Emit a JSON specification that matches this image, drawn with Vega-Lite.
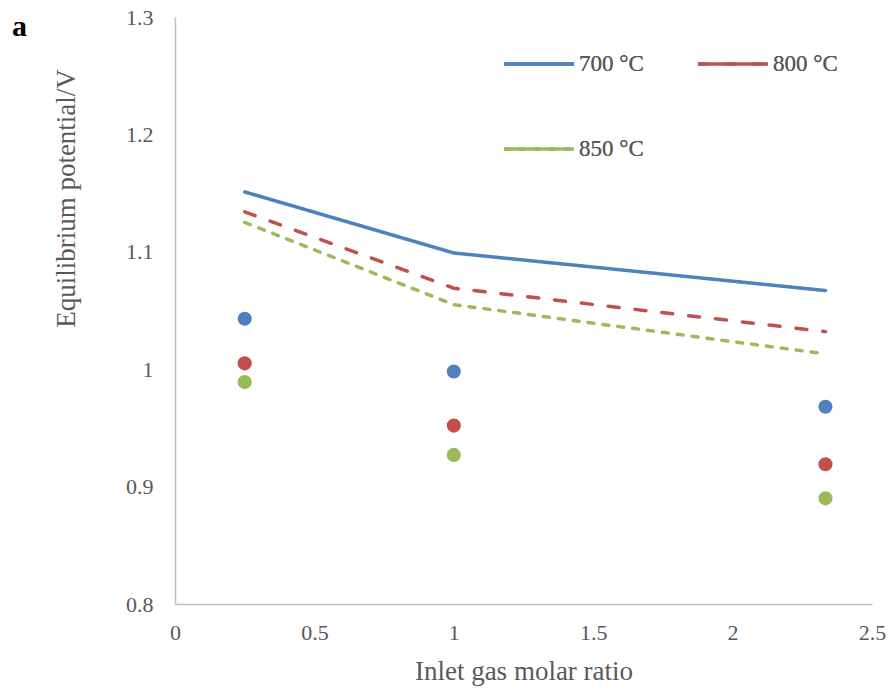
{
  "$schema": "https://vega.github.io/schema/vega-lite/v6.json",
  "width": 697,
  "height": 587,
  "autosize": {"type": "none"},
  "padding": {"left": 175, "top": 17, "right": 19, "bottom": 87},
  "background": "white",
  "title": {"text": "a", "anchor": "start", "frame": "group", "dx": -163, "dy": 40, "fontSize": 30, "font": "Liberation Serif", "fontWeight": "bold", "color": "black"},
  "datasets": {
    "model": [
      {"ratio": 0.25, "temp": "700 °C", "V": 1.151},
      {"ratio": 1, "temp": "700 °C", "V": 1.099},
      {"ratio": 2.333, "temp": "700 °C", "V": 1.067},
      {"ratio": 0.25, "temp": "800 °C", "V": 1.134},
      {"ratio": 1, "temp": "800 °C", "V": 1.069},
      {"ratio": 2.333, "temp": "800 °C", "V": 1.032},
      {"ratio": 0.25, "temp": "850 °C", "V": 1.125},
      {"ratio": 1, "temp": "850 °C", "V": 1.055},
      {"ratio": 2.333, "temp": "850 °C", "V": 1.013}
    ],
    "exp": [
      {"ratio": 0.25, "temp": "700 °C", "V": 1.043},
      {"ratio": 1, "temp": "700 °C", "V": 0.998},
      {"ratio": 2.333, "temp": "700 °C", "V": 0.968},
      {"ratio": 0.25, "temp": "800 °C", "V": 1.005},
      {"ratio": 1, "temp": "800 °C", "V": 0.952},
      {"ratio": 2.333, "temp": "800 °C", "V": 0.919},
      {"ratio": 0.25, "temp": "850 °C", "V": 0.989},
      {"ratio": 1, "temp": "850 °C", "V": 0.927},
      {"ratio": 2.333, "temp": "850 °C", "V": 0.890}
    ]
  },
  "layer": [
    {
      "data": {"name": "model"},
      "mark": {"type": "line", "strokeWidth": 3.5, "strokeCap": "round"},
      "encoding": {
        "x": {"field": "ratio", "type": "quantitative", "scale": {"domain": [0, 2.5], "nice": false, "zero": false, "padding": 0},
          "axis": {"values": [0, 0.5, 1, 1.5, 2, 2.5], "format": "~g", "title": "Inlet gas molar ratio", "labelPadding": 18, "titlePadding": 15, "labelFlush": false}},
        "y": {"field": "V", "type": "quantitative", "scale": {"domain": [0.8, 1.3], "nice": false, "zero": false, "padding": 0},
          "axis": {"values": [0.8, 0.9, 1, 1.1, 1.2, 1.3], "format": "~g", "title": "Equilibrium potential/V", "labelPadding": 22, "titlePadding": 45, "titleY": 181, "labelFlush": false}},
        "color": {"field": "temp", "type": "nominal",
          "scale": {"domain": ["700 °C", "850 °C", "800 °C"], "range": ["#4f81bd", "#9bbb59", "#c0504d"]},
          "legend": {"orient": "none", "legendX": 327, "legendY": 10, "columns": 2, "title": null}},
        "strokeDash": {"field": "temp", "type": "nominal",
          "scale": {"domain": ["700 °C", "850 °C", "800 °C"], "range": [[1, 0], [6, 9], [11, 16]]},
          "legend": {"orient": "none", "legendX": 327, "legendY": 10, "columns": 2, "title": null}}
      }
    },
    {
      "data": {"name": "exp"},
      "mark": {"type": "point", "filled": true, "opacity": 1, "size": 200},
      "encoding": {
        "x": {"field": "ratio", "type": "quantitative"},
        "y": {"field": "V", "type": "quantitative"},
        "color": {"field": "temp", "type": "nominal",
          "scale": {"domain": ["700 °C", "800 °C", "850 °C"], "range": ["#4f81bd", "#c0504d", "#9bbb59"]},
          "legend": null}
      }
    }
  ],
  "resolve": {"scale": {"color": "independent"}},
  "config": {
    "font": "Liberation Serif",
    "view": {"stroke": null},
    "axis": {"domainColor": "#bfbfbf", "domainWidth": 1.5, "ticks": false, "grid": false,
      "labelFont": "Liberation Serif", "labelFontSize": 22, "labelColor": "#595959",
      "titleFont": "Liberation Serif", "titleFontSize": 27, "titleColor": "#595959", "titleFontWeight": "normal"},
    "legend": {"symbolType": "stroke", "symbolSize": 4900, "symbolStrokeWidth": 3.5,
      "labelFont": "Liberation Serif", "labelFontSize": 23, "labelColor": "#595959", "labelFontWeight": "normal",
      "labelOffset": 3, "columnPadding": 47, "rowPadding": 36}
  }
}
